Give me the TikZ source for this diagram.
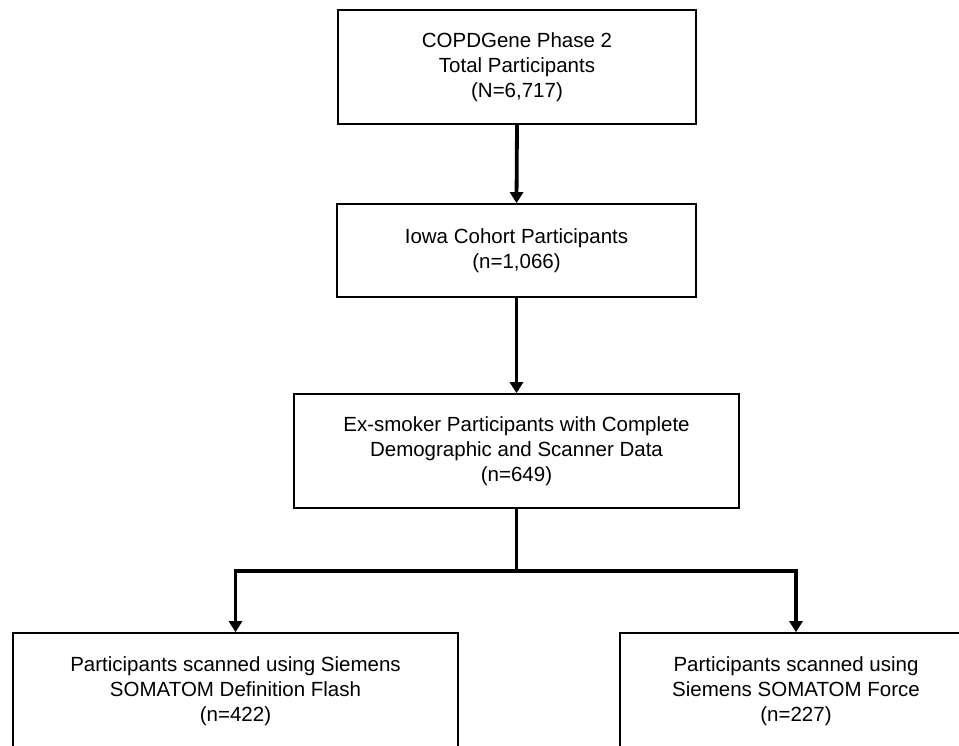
\documentclass[tikz,border=0pt]{standalone}
\usepackage{fontspec}
\setmainfont{Liberation Sans}
\usetikzlibrary{arrows.meta}
\begin{document}
\begin{tikzpicture}[x=1pt,y=-1pt,
  box/.style={draw, line width=1.6pt, align=center, inner sep=0pt,
    font=\fontsize{20.5}{25}\selectfont},
  conn/.style={line width=3.8pt, line join=miter},
  tip/.style={-{Triangle[length=11pt,width=13pt]}}]
\useasboundingbox (0,0) rectangle (959,746);
\clip (0,0) rectangle (959,746);
\node[box, minimum width=358pt, minimum height=114pt] (b1) at (517,67) {COPDGene Phase 2\\Total Participants\\(N=6,717)};
\node[box, minimum width=359pt, minimum height=93pt] (b2) at (516.5,250.5) {Iowa Cohort Participants\\(n=1,066)};
\node[box, minimum width=445pt, minimum height=114pt] (b3) at (516.5,451) {Ex-smoker Participants with Complete\\Demographic and Scanner Data\\(n=649)};
\node[box, minimum width=445pt, minimum height=116pt] (b4) at (235.5,691) {Participants scanned using Siemens\\SOMATOM Definition Flash\\(n=422)};
\node[box, minimum width=352pt, minimum height=116pt] (b5) at (796,691) {Participants scanned using\\Siemens SOMATOM Force\\(n=227)};
\coordinate (j) at (516.5,571);
\draw[conn, tip] (b1.south) -- (b2.north);
\draw[conn, tip] (b2.south) -- (b3.north);
\draw[conn] (b3.south) -- (j);
\draw[conn, {Triangle[length=11pt,width=13pt]}-{Triangle[length=11pt,width=13pt]}] (b4.north) |- (j) -| (b5.north);
\end{tikzpicture}
\end{document}
